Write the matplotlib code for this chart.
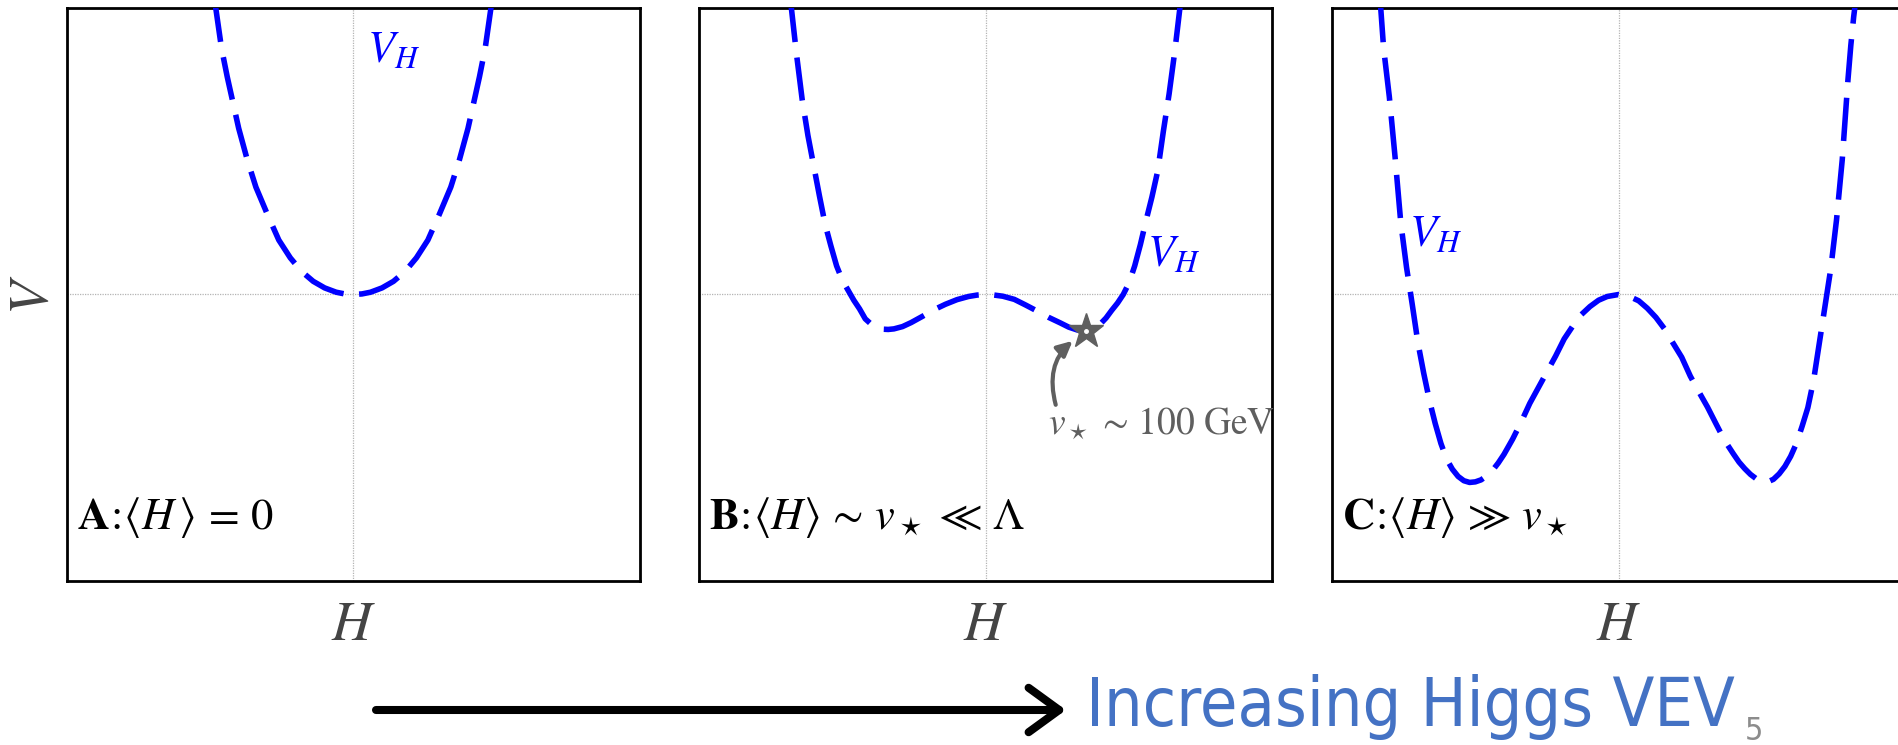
import matplotlib
matplotlib.use("Agg")
import matplotlib.pyplot as plt
from matplotlib.patches import FancyArrowPatch

plt.rcParams["mathtext.fontset"] = "stix"
plt.rcParams["font.family"] = ["STIXGeneral", "DejaVu Sans"]

# ---------------- data ----------------
# Panel A: <H> = 0
H_A = [-0.49, -0.48, -0.46, -0.44, -0.42, -0.40, -0.37, -0.34, -0.30, -0.26, -0.22, -0.18,
       -0.14, -0.10, -0.06, -0.03, 0.0, 0.03, 0.06, 0.10, 0.14, 0.18, 0.22, 0.26, 0.30,
       0.34, 0.37, 0.40, 0.42, 0.44, 0.46, 0.48, 0.49]
V_A = [1.06, 1.00, 0.86, 0.76, 0.67, 0.58, 0.47, 0.375, 0.28, 0.19, 0.128, 0.08,
       0.046, 0.023, 0.008, 0.002, 0.0, 0.002, 0.008, 0.023, 0.046, 0.08, 0.128, 0.19, 0.28,
       0.375, 0.47, 0.58, 0.67, 0.76, 0.86, 1.00, 1.06]

# Panel B: <H> ~ v* << Lambda
H_B = [-0.69, -0.68, -0.66, -0.64, -0.62, -0.60, -0.58, -0.56, -0.54, -0.52, -0.50, -0.48,
       -0.46, -0.44, -0.42, -0.40, -0.38, -0.36, -0.34, -0.32, -0.29, -0.26, -0.22, -0.18,
       -0.14, -0.10, -0.06, -0.03, 0.0, 0.03, 0.06, 0.10, 0.14, 0.18, 0.22, 0.26, 0.29,
       0.32, 0.35, 0.38, 0.40, 0.42, 0.44, 0.46, 0.48, 0.50, 0.52, 0.54, 0.56, 0.58, 0.60,
       0.62, 0.64, 0.66, 0.68, 0.69]
V_B = [1.10, 1.02, 0.84, 0.68, 0.555, 0.45, 0.345, 0.245, 0.17, 0.10, 0.05, 0.015,
       -0.02, -0.05, -0.085, -0.103, -0.115, -0.121, -0.122, -0.120, -0.112, -0.098, -0.076, -0.053,
       -0.034, -0.018, -0.007, -0.002, 0.0, -0.002, -0.006, -0.017, -0.037, -0.058, -0.080, -0.099, -0.114,
       -0.124, -0.128, -0.120, -0.103, -0.082, -0.055, -0.030, 0.0, 0.04, 0.10, 0.175, 0.26, 0.34, 0.43,
       0.57, 0.70, 0.85, 1.02, 1.10]
STAR_H, STAR_V = 0.351, -0.128

# Panel C: <H> >> v*
H_C = [-0.84, -0.83, -0.82, -0.80, -0.78, -0.76, -0.74, -0.72, -0.70, -0.68, -0.66, -0.64, -0.62,
       -0.60, -0.58, -0.56, -0.54, -0.52, -0.50, -0.48, -0.46, -0.44, -0.42, -0.40, -0.37,
       -0.34, -0.31, -0.28, -0.25, -0.22, -0.19, -0.16, -0.13, -0.10, -0.07, -0.04, 0.0,
       0.04, 0.07, 0.10, 0.13, 0.16, 0.19, 0.22, 0.25, 0.28, 0.31, 0.34, 0.37, 0.40, 0.42,
       0.44, 0.46, 0.48, 0.50, 0.52, 0.54, 0.56, 0.58, 0.60, 0.62, 0.64, 0.66, 0.68, 0.70,
       0.72, 0.74, 0.76, 0.78, 0.80, 0.81, 0.82, 0.83, 0.84]
V_C = [1.14, 1.00, 0.86, 0.69, 0.48, 0.25, 0.095, -0.035, -0.17, -0.275, -0.37, -0.45, -0.52,
       -0.575, -0.61, -0.635, -0.65, -0.656, -0.654, -0.647, -0.633, -0.614, -0.588, -0.558, -0.505,
       -0.445, -0.38, -0.325, -0.27, -0.215, -0.155, -0.11, -0.07, -0.042, -0.02, -0.007, 0.0,
       -0.008, -0.022, -0.048, -0.08, -0.12, -0.17, -0.219, -0.285, -0.34, -0.393, -0.452, -0.51, -0.556, -0.585,
       -0.608, -0.628, -0.643, -0.652, -0.654, -0.645, -0.626, -0.60, -0.565, -0.52, -0.46, -0.395, -0.30, -0.17,
       -0.04, 0.09, 0.26, 0.47, 0.75, 0.87, 0.97, 1.05, 1.14]

PANEL_LABELS = [r"$\mathbf{A}\!:\!\langle H\,\rangle \,=\, 0$",
                r"$\mathbf{B}\!:\!\langle H\rangle \,\sim\, v_\star \,\ll\, \Lambda$",
                r"$\mathbf{C}\!:\!\langle H\rangle \,\gg\, v_\star$"]
VH_POS = [(0.048, 0.812), (0.564, 0.098), (-0.732, 0.168)]
STAR_TEXT = r"$v_\star \,\sim\, 100\ \mathrm{GeV}$"
BOTTOM_TEXT = "Increasing Higgs VEV"
PAGE_NUM = "5"

# ---------------- figure ----------------
W, H = 1899, 745
fig = plt.figure(figsize=(W / 100, H / 100), dpi=100)

BLUE = "#0000ff"
GRAY = "#5f5f5f"
LABEL_GRAY = "#444444"

ax_left_px = [66.7, 699.0, 1332.0]
ax_w_px, ax_top_px, ax_bot_px = 573.3, 8.0, 581.0

curves = [(H_A, V_A), (H_B, V_B), (H_C, V_C)]
axes = []
for i, (hh, vv) in enumerate(curves):
    rect = [ax_left_px[i] / W, 1 - ax_bot_px / H, ax_w_px / W, (ax_bot_px - ax_top_px) / H]
    ax = fig.add_axes(rect)
    axes.append(ax)
    ax.set_xlim(-1, 1)
    ax.set_ylim(-1, 1)
    ax.set_xticks([])
    ax.set_yticks([])
    for sp in ax.spines.values():
        sp.set_linewidth(2.0)
        sp.set_color("black")
    ax.axhline(0, color="#b4b4b4", lw=0.9, ls=(0, (1, 1)), zorder=1)
    ax.axvline(0, color="#b4b4b4", lw=0.9, ls=(0, (1, 1)), zorder=1)
    ax.plot(hh, vv, color=BLUE, lw=4.0, dashes=(7.8, 2.8), dash_capstyle="butt", zorder=3)
    ax.text(VH_POS[i][0], VH_POS[i][1], r"$V_H$", color=BLUE, fontsize=32,
            ha="left", va="baseline", zorder=4)
    ax.text(0.0175, 0.091, PANEL_LABELS[i], transform=ax.transAxes, fontsize=32,
            color="black", ha="left", va="baseline")
    ax.set_xlabel(r"$H$", fontsize=40, color=LABEL_GRAY)
    ax.xaxis.set_label_coords(0.5, -0.035)

axes[0].set_ylabel(r"$V$", fontsize=40, color=LABEL_GRAY, rotation=90,
                   ha="center", va="center")
axes[0].yaxis.set_label_coords(-0.056, 0.5)

# star + curved arrow in panel B
axb = axes[1]
axb.plot([STAR_H], [STAR_V], marker="*", ms=26, color=GRAY, mec=GRAY, ls="none", zorder=5)
axb.plot([STAR_H], [STAR_V], marker="o", ms=2.5, color="white", mec="white", ls="none", zorder=6)
axb.annotate("", xy=(STAR_H, STAR_V), xytext=(-22, -53), textcoords="offset points",
             arrowprops=dict(arrowstyle="-|>,head_length=0.45,head_width=0.22",
                             connectionstyle="arc3,rad=-0.38", color=GRAY, lw=3,
                             shrinkA=0, shrinkB=12, mutation_scale=20))
axb.text(0.609, 0.255, STAR_TEXT, transform=axb.transAxes, fontsize=27, color=GRAY,
         ha="left", va="baseline")

# bottom arrow and caption
y_arrow = 1 - 710 / H
arrow = FancyArrowPatch((376 / W, y_arrow), (1066 / W, y_arrow), transform=fig.transFigure,
                        arrowstyle="->,head_length=0.55,head_width=0.4", mutation_scale=40,
                        lw=5.8, color="black", shrinkA=0, shrinkB=0)
fig.add_artist(arrow)
fig.text(1086 / W, 1 - 726 / H, BOTTOM_TEXT, fontsize=49, color="#4472c4",
         family="DejaVu Sans", fontstretch="condensed", ha="left", va="baseline")
fig.text(1745 / W, 1 - 716 / H, PAGE_NUM, fontsize=23, color="#8c8c8c",
         family="DejaVu Sans", fontstretch="condensed", ha="left", va="top")

fig.savefig("out.png", dpi=100)
